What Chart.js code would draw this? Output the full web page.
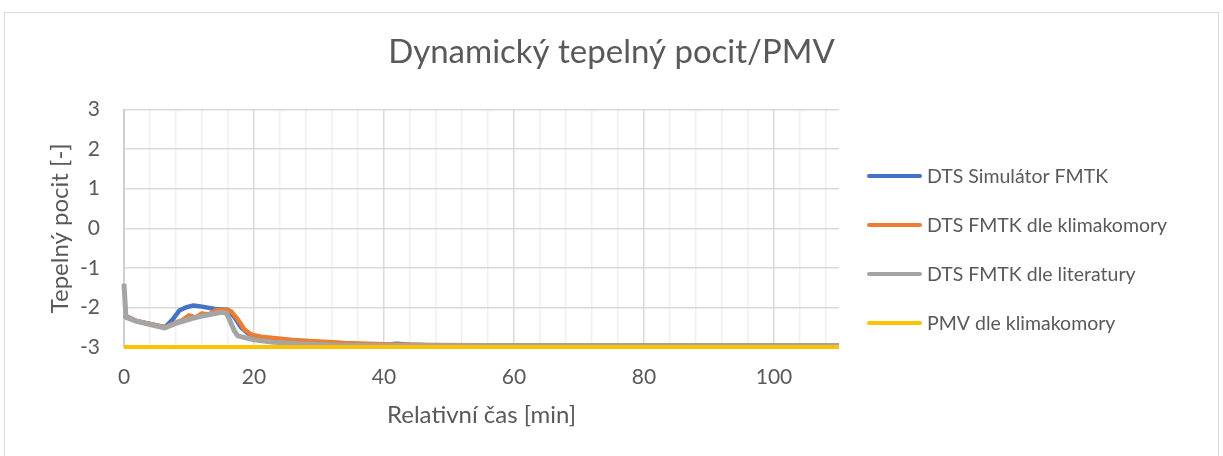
<!DOCTYPE html>
<html>
<head>
<meta charset="utf-8">
<script src="https://cdn.jsdelivr.net/npm/chart.js@4.4.0/dist/chart.umd.min.js"></script>
<style>
  html, body { margin: 0; padding: 0; background: #fff; }
  #wrap { position: relative; width: 1223px; height: 456px; overflow: hidden; }
  #frame { position: absolute; left: 4px; top: 12px; width: 1213px; height: 470px; border: 1px solid #d9d9d9; }
  canvas { position: absolute; left: 0; top: 0; }
</style>
</head>
<body>
<div id="wrap">
  <div id="frame"></div>
  <canvas id="mycanvas" width="1223" height="456"></canvas>
</div>
<script>
// relative time [min] and thermal sensation values
var simTime = [0, 2, 4, 6.3, 7.5, 8.5, 9.5, 10.7, 12, 14, 16, 17, 18, 19, 20, 22, 25, 28, 32, 36, 40, 42, 44, 48, 60, 80, 100, 110];
var simVal  = [-2.2, -2.35, -2.42, -2.5, -2.3, -2.08, -2.0, -1.95, -1.98, -2.04, -2.06, -2.25, -2.5, -2.65, -2.72, -2.78, -2.83, -2.87, -2.9, -2.93, -2.94, -2.92, -2.94, -2.96, -2.96, -2.96, -2.96, -2.96];

var klimaTime = [0, 2, 4, 6.3, 8, 9, 10, 11, 12, 13, 14, 15.5, 16.5, 17.5, 18.5, 19.5, 21, 23, 26, 30, 34, 40, 48, 60, 110];
var klimaVal  = [-2.2, -2.35, -2.42, -2.5, -2.38, -2.32, -2.2, -2.25, -2.15, -2.18, -2.08, -2.05, -2.1, -2.3, -2.55, -2.68, -2.74, -2.77, -2.82, -2.86, -2.9, -2.93, -2.95, -2.96, -2.96];

var litTime = [0, 0.3, 2, 4, 6.3, 8, 10.4, 12, 15, 15.8, 17, 17.5, 20, 23, 27, 32, 40, 60, 110];
var litVal  = [-1.4, -2.25, -2.35, -2.43, -2.52, -2.4, -2.28, -2.22, -2.12, -2.15, -2.6, -2.72, -2.82, -2.88, -2.92, -2.95, -2.96, -2.97, -2.97];

var pmvTime = [0, 110];
var pmvVal  = [-3, -3];

var seriesNames = ['DTS Simulátor FMTK', 'DTS FMTK dle klimakomory', 'DTS FMTK dle literatury', 'PMV dle klimakomory'];
var seriesColors = ['#4472C4', '#ED7D31', '#A5A5A5', '#FFC000'];

var yTicks = [-3, -2, -1, 0, 1, 2, 3];
var xLabels = [0, 20, 40, 60, 80, 100];

function pts(t, v) {
  var out = [];
  for (var i = 0; i < t.length; i++) out.push({x: t[i], y: v[i]});
  return out;
}

var FONT = 'Lato';
var TXT = '#595959';

// legend drawn in the space kept free on the right
var legendPlugin = {
  id: 'sideLegend',
  afterDraw: function(chart) {
    var ctx = chart.ctx;
    var x0 = chart.chartArea.right + 28;
    ctx.save();
    ctx.font = '19.5px ' + FONT;
    ctx.textBaseline = 'middle';
    ctx.fillStyle = TXT;
    chart.data.datasets.forEach(function(ds, i) {
      var y = 176 + i * 49;
      ctx.strokeStyle = ds.borderColor;
      ctx.lineWidth = 4;
      ctx.lineCap = 'round';
      ctx.beginPath();
      ctx.moveTo(x0 + 2, y);
      ctx.lineTo(x0 + 53, y);
      ctx.stroke();
      ctx.fillText(ds.label, x0 + 60, y + 1);
    });
    ctx.restore();
  }
};

var chartdata = {
  datasets: [
    { label: seriesNames[0], data: pts(simTime, simVal), borderColor: seriesColors[0], borderWidth: 4.5, order: 4, clip: 4 },
    { label: seriesNames[1], data: pts(klimaTime, klimaVal), borderColor: seriesColors[1], borderWidth: 4.5, order: 3, clip: 4 },
    { label: seriesNames[2], data: pts(litTime, litVal), borderColor: seriesColors[2], borderWidth: 5, order: 2, clip: 4 },
    { label: seriesNames[3], data: pts(pmvTime, pmvVal), borderColor: seriesColors[3], borderWidth: 4, order: 1, clip: 4 }
  ]
};

var ctx = document.getElementById('mycanvas');

var lineGraph = new Chart(ctx, {
  type: 'line',
  data: chartdata,
  plugins: [legendPlugin],
  options: {
    responsive: false,
    animation: false,
    layout: { padding: { left: 10, right: 10, top: 0, bottom: 25 } },
    elements: {
      point: { radius: 0 },
      line: { tension: 0, fill: false, borderCapStyle: 'butt', borderJoinStyle: 'round' }
    },
    plugins: {
      legend: { display: false },
      tooltip: { enabled: false },
      title: {
        display: true,
        text: 'Dynamický tepelný pocit/PMV',
        color: TXT,
        font: { family: FONT, size: 33, weight: 'normal' },
        padding: { top: 33, bottom: 37 }
      }
    },
    scales: {
      x: {
        type: 'linear',
        min: 0,
        max: 110,
        afterBuildTicks: function(s) {
          var t = [];
          for (var v = 0; v <= 108; v += 4) t.push({value: v});
          s.ticks = t;
        },
        afterFit: function(s) { s.height = 84; },
        ticks: {
          autoSkip: false,
          maxRotation: 0,
          padding: 18,
          color: TXT,
          font: { family: FONT, size: 21 },
          callback: function(v) { return xLabels.indexOf(v) >= 0 ? String(v) : ''; }
        },
        grid: {
          drawTicks: false,
          color: function(c) { return c.tick && c.tick.value % 20 === 0 ? '#d9d9d9' : '#f0f0f0'; },
          lineWidth: 1.5
        },
        border: { display: false },
        title: {
          display: true,
          text: 'Relativní čas [min]',
          color: TXT,
          font: { family: FONT, size: 24 },
          padding: { top: 10, bottom: 1 }
        }
      },
      y: {
        min: -3,
        max: 3,
        afterBuildTicks: function(s) {
          s.ticks = yTicks.map(function(v) { return {value: v}; });
        },
        afterFit: function(s) { s.width = 114; },
        ticks: {
          padding: 24,
          color: TXT,
          font: { family: FONT, size: 21 }
        },
        grid: { drawTicks: false, color: '#d9d9d9', lineWidth: 1.5 },
        border: { color: '#cfcfcf', width: 2 },
        title: {
          display: true,
          text: 'Tepelný pocit [-]',
          color: TXT,
          font: { family: FONT, size: 24 },
          padding: { top: 36, bottom: 0 }
        }
      },
      legendSpace: {
        type: 'linear',
        position: 'right',
        display: true,
        grid: { display: false },
        ticks: { display: false },
        border: { display: false },
        afterFit: function(s) { s.width = 374; }
      }
    }
  }
});
</script>
</body>
</html>
